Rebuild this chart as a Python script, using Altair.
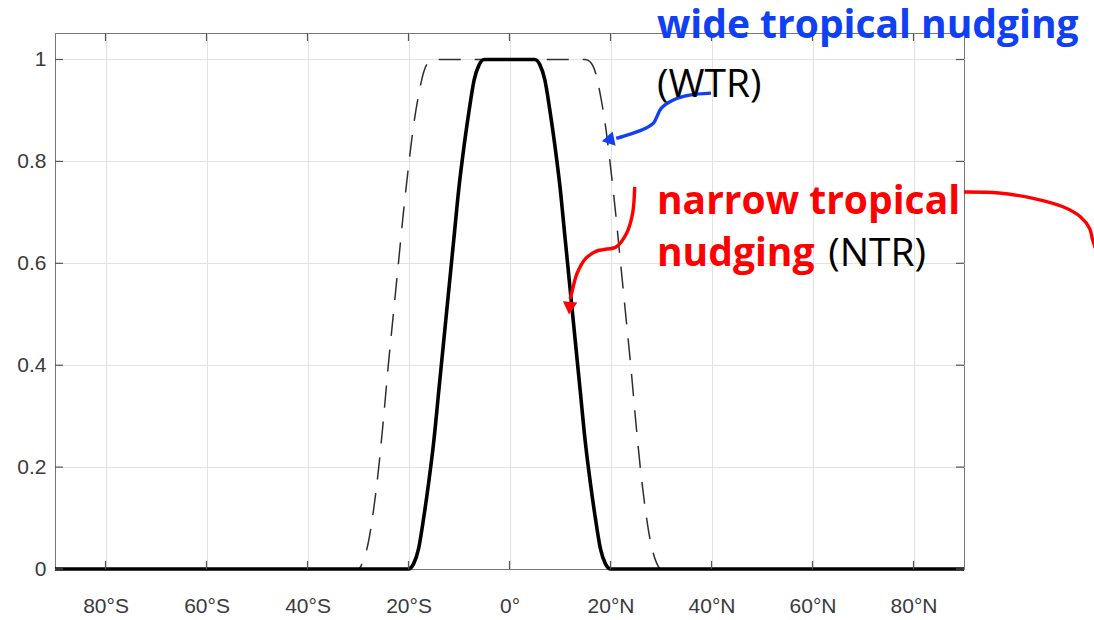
import altair as alt
import pandas as pd

# Nudging weight profiles (latitude in degrees, negative = south)
ntr_lat = [-90, -20, -19, -18, -17, -16, -15, -14, -13, -12, -11, -10, -9, -8, -7, -6, -5,
           5, 6, 7, 8, 9, 10, 11, 12, 13, 14, 15, 16, 17, 18, 19, 20, 90]
ntr_val = [0, 0, 0.01, 0.04, 0.10, 0.17, 0.25, 0.35, 0.45, 0.55, 0.65, 0.75, 0.83, 0.90, 0.96, 0.99, 1,
           1, 0.99, 0.96, 0.90, 0.83, 0.75, 0.65, 0.55, 0.45, 0.35, 0.25, 0.17, 0.10, 0.04, 0.01, 0, 0]

wtr_lat = [-90, -30, -29, -28, -27, -26, -25, -24, -23, -22, -21, -20, -19, -18, -17, -16, -15,
           15, 16, 17, 18, 19, 20, 21, 22, 23, 24, 25, 26, 27, 28, 29, 30, 90]
wtr_val = [0, 0, 0.015, 0.05, 0.11, 0.19, 0.29, 0.40, 0.50, 0.60, 0.70, 0.79, 0.87, 0.93, 0.975, 0.995, 1,
           1, 0.995, 0.975, 0.93, 0.87, 0.79, 0.70, 0.60, 0.50, 0.40, 0.29, 0.19, 0.11, 0.05, 0.015, 0, 0]

x_ticks = [-80, -60, -40, -20, 0, 20, 40, 60, 80]
y_ticks = [0, 0.2, 0.4, 0.6, 0.8, 1]

# Annotation call-outs, in (latitude, weight) units
blue_arrow_lat = [39.90, 35.64, 32.34, 30.03, 29.16, 28.51, 26.73, 23.76, 21.13]
blue_arrow_val = [0.934, 0.930, 0.920, 0.904, 0.887, 0.875, 0.864, 0.853, 0.845]
blue_head = (19.5, 0.842, 258)

red_arrow_lat = [24.79, 24.38, 23.19, 21.09, 18.63, 17.23, 15.15, 13.37, 12.48, 12.0]
red_arrow_val = [0.750, 0.698, 0.659, 0.632, 0.627, 0.624, 0.610, 0.580, 0.548, 0.530]
red_head = (11.9, 0.512, 185)

red_link_lat = [90.0, 96.9, 103.9, 109.6, 113.1, 114.9, 115.4, 116.0]
red_link_val = [0.740, 0.738, 0.727, 0.711, 0.691, 0.668, 0.648, 0.630]

bold_labels = ["wide tropical nudging", "narrow tropical", "nudging"]
bold_lat = [29.2, 29.2, 29.2]
bold_val = [1.042, 0.697, 0.595]
bold_color = ["#1040f2", "#ff0000", "#ff0000"]

plain_labels = ["(WTR)", "(NTR)"]
plain_lat = [29.2, 63.1]
plain_val = [0.926, 0.595]

W, H = 909, 536
FONT = "Open Sans"

x_scale = alt.Scale(domain=[-90, 90], nice=False, zero=False)
y_scale = alt.Scale(domain=[0, 1.052], nice=False, zero=False)

x_axis = alt.Axis(
    values=x_ticks, grid=True, ticks=False, title=None,
    labelExpr="datum.value < 0 ? (-datum.value) + '°S' : (datum.value > 0 ? datum.value + '°N' : '0°')",
    labelPadding=26, labelBaseline="top",
)
y_axis = alt.Axis(values=y_ticks, grid=True, ticks=False, title=None, format="~g", labelPadding=9)

profiles = pd.DataFrame({
    "lat": wtr_lat + ntr_lat,
    "w": wtr_val + ntr_val,
    "series": ["WTR"] * len(wtr_lat) + ["NTR"] * len(ntr_lat),
})

wtr_line = alt.Chart(profiles).transform_filter(alt.datum.series == "WTR").mark_line(
    color="#2e2e2e", strokeWidth=1.5, strokeDash=[22, 14], interpolate="monotone"
).encode(
    x=alt.X("lat:Q", scale=x_scale, axis=x_axis),
    y=alt.Y("w:Q", scale=y_scale, axis=y_axis),
)

ntr_line = alt.Chart(profiles).transform_filter(alt.datum.series == "NTR").mark_line(
    color="#000000", strokeWidth=3.6, interpolate="monotone"
).encode(
    x=alt.X("lat:Q", scale=x_scale),
    y=alt.Y("w:Q", scale=y_scale),
)

# Inward tick marks on all four sides
xt = pd.DataFrame({"t": x_ticks})
yt = pd.DataFrame({"t": y_ticks})
tick_style = dict(color="#555555", strokeWidth=1.2)
ticks = [
    alt.Chart(xt).mark_rule(**tick_style).encode(x=alt.X("t:Q", scale=x_scale), y=alt.value(H), y2=alt.value(H - 8)),
    alt.Chart(xt).mark_rule(**tick_style).encode(x=alt.X("t:Q", scale=x_scale), y=alt.value(0), y2=alt.value(8)),
    alt.Chart(yt).mark_rule(**tick_style).encode(y=alt.Y("t:Q", scale=y_scale), x=alt.value(0), x2=alt.value(8)),
    alt.Chart(yt).mark_rule(**tick_style).encode(y=alt.Y("t:Q", scale=y_scale), x=alt.value(W), x2=alt.value(W - 8)),
]


def path(lats, vals, color):
    df = pd.DataFrame({"lat": lats, "w": vals, "i": range(len(lats))})
    return alt.Chart(df).mark_line(color=color, strokeWidth=3.4, interpolate="catmull-rom").encode(
        x=alt.X("lat:Q", scale=x_scale), y=alt.Y("w:Q", scale=y_scale), order="i:Q"
    )


def head(spec, color):
    lat, val, ang = spec
    df = pd.DataFrame({"lat": [lat], "w": [val]})
    return alt.Chart(df).mark_point(
        shape="triangle-up", filled=True, size=210, color=color, opacity=1, angle=ang
    ).encode(x=alt.X("lat:Q", scale=x_scale), y=alt.Y("w:Q", scale=y_scale))


bold_df = pd.DataFrame({"txt": bold_labels, "lat": bold_lat, "w": bold_val, "c": bold_color})
bold_text = alt.Chart(bold_df).mark_text(
    font=FONT, fontSize=39, fontWeight="bold", align="left", baseline="alphabetic"
).encode(
    x=alt.X("lat:Q", scale=x_scale), y=alt.Y("w:Q", scale=y_scale),
    text="txt:N", color=alt.Color("c:N", scale=None),
)

plain_df = pd.DataFrame({"txt": plain_labels, "lat": plain_lat, "w": plain_val})
plain_text = alt.Chart(plain_df).mark_text(
    font=FONT, fontSize=39, align="left", baseline="alphabetic", color="#000000"
).encode(x=alt.X("lat:Q", scale=x_scale), y=alt.Y("w:Q", scale=y_scale), text="txt:N")

chart = alt.layer(
    wtr_line, ntr_line, *ticks,
    path(blue_arrow_lat, blue_arrow_val, "#1040f2"), head(blue_head, "#1040f2"),
    path(red_arrow_lat, red_arrow_val, "#ff0000"), head(red_head, "#ff0000"),
    path(red_link_lat, red_link_val, "#ff0000"),
    bold_text, plain_text,
).properties(
    width=W, height=H,
    padding={"left": 55, "top": 33, "right": 1094 - 55 - W, "bottom": 620 - 33 - H},
    autosize=alt.AutoSizeParams(type="none"),
).configure_view(
    stroke="#777777", strokeWidth=1
).configure_axis(
    domainColor="#777777", domainWidth=1, gridColor="#e2e2e2", gridWidth=1,
    labelFont="Liberation Sans", labelFontSize=21, labelColor="#3a3a3a",
)

chart.save("out.html", embed_options={"renderer": "svg", "actions": False})
